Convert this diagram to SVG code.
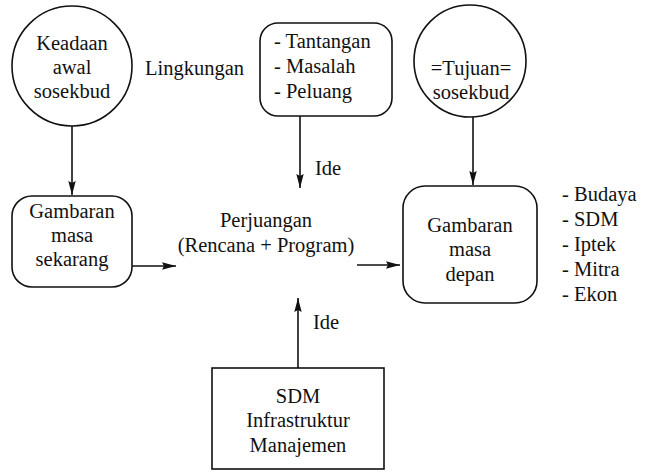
<svg xmlns="http://www.w3.org/2000/svg" width="654" height="474" viewBox="0 0 654 474">
<defs>
<style>
text{font-family:'Liberation Serif','DejaVu Serif','Times New Roman',serif;font-size:20.5px;fill:#111}
.c{text-anchor:middle}
.shape{fill:#fff;stroke:#111;stroke-width:1.6}
.line{stroke:#111;stroke-width:1.6;fill:none}
</style>
<marker id="ah" viewBox="0 0 14 8" refX="14" refY="4" markerWidth="14" markerHeight="8" markerUnits="userSpaceOnUse" orient="auto">
<path d="M0,0.3 L14,4 L0,7.7 L2,4 Z" fill="#111"/>
</marker>
</defs>
<rect width="654" height="474" fill="#fff"/>
<g font-family="'Liberation Serif', 'DejaVu Serif', serif">
<g id="connectors">
<line class="line" x1="72" y1="126" x2="72" y2="195" marker-end="url(#ah)"/>
<line class="line" x1="300" y1="116" x2="300" y2="188" marker-end="url(#ah)"/>
<line class="line" x1="473" y1="117" x2="473" y2="185" marker-end="url(#ah)"/>
<line class="line" x1="132" y1="266" x2="176" y2="266" marker-end="url(#ah)"/>
<line class="line" x1="357" y1="265" x2="400" y2="265" marker-end="url(#ah)"/>
<line class="line" x1="298" y1="368" x2="298" y2="298" marker-end="url(#ah)"/>
<text x="315" y="175">Ide</text>
<text x="313" y="329">Ide</text>
</g>
<g id="keadaan">
<circle class="shape" cx="72" cy="66" r="60"/>
<text class="c" x="72" y="50">Keadaan</text>
<text class="c" x="72" y="74">awal</text>
<text class="c" x="72" y="98">sosekbud</text>
</g>
<g id="lingkungan">
<text x="145" y="75">Lingkungan</text>
</g>
<g id="tantangan">
<rect class="shape" x="260" y="23" width="132" height="93" rx="18"/>
<text x="274" y="48">- Tantangan</text>
<text x="274" y="73">- Masalah</text>
<text x="274" y="98">- Peluang</text>
</g>
<g id="tujuan">
<circle class="shape" cx="470" cy="61" r="56"/>
<text class="c" x="471" y="75">=Tujuan=</text>
<text class="c" x="471" y="99">sosekbud</text>
</g>
<g id="sekarang">
<rect class="shape" x="12" y="196" width="120" height="91" rx="20"/>
<text class="c" x="72" y="218">Gambaran</text>
<text class="c" x="72" y="242">masa</text>
<text class="c" x="72" y="266">sekarang</text>
</g>
<g id="perjuangan">
<text class="c" x="266" y="227">Perjuangan</text>
<text class="c" x="266" y="252">(Rencana + Program)</text>
</g>
<g id="depan">
<rect class="shape" x="403" y="186" width="134" height="117" rx="22"/>
<text class="c" x="470" y="232">Gambaran</text>
<text class="c" x="470" y="256">masa</text>
<text class="c" x="470" y="281">depan</text>
</g>
<g id="aspek">
<text x="562" y="201">- Budaya</text>
<text x="562" y="226">- SDM</text>
<text x="562" y="251">- Iptek</text>
<text x="562" y="276">- Mitra</text>
<text x="562" y="301">- Ekon</text>
</g>
<g id="sdm">
<rect class="shape" x="212" y="368" width="172" height="101"/>
<text class="c" x="298" y="403">SDM</text>
<text class="c" x="298" y="427">Infrastruktur</text>
<text class="c" x="298" y="452">Manajemen</text>
</g>
</g>
</svg>
